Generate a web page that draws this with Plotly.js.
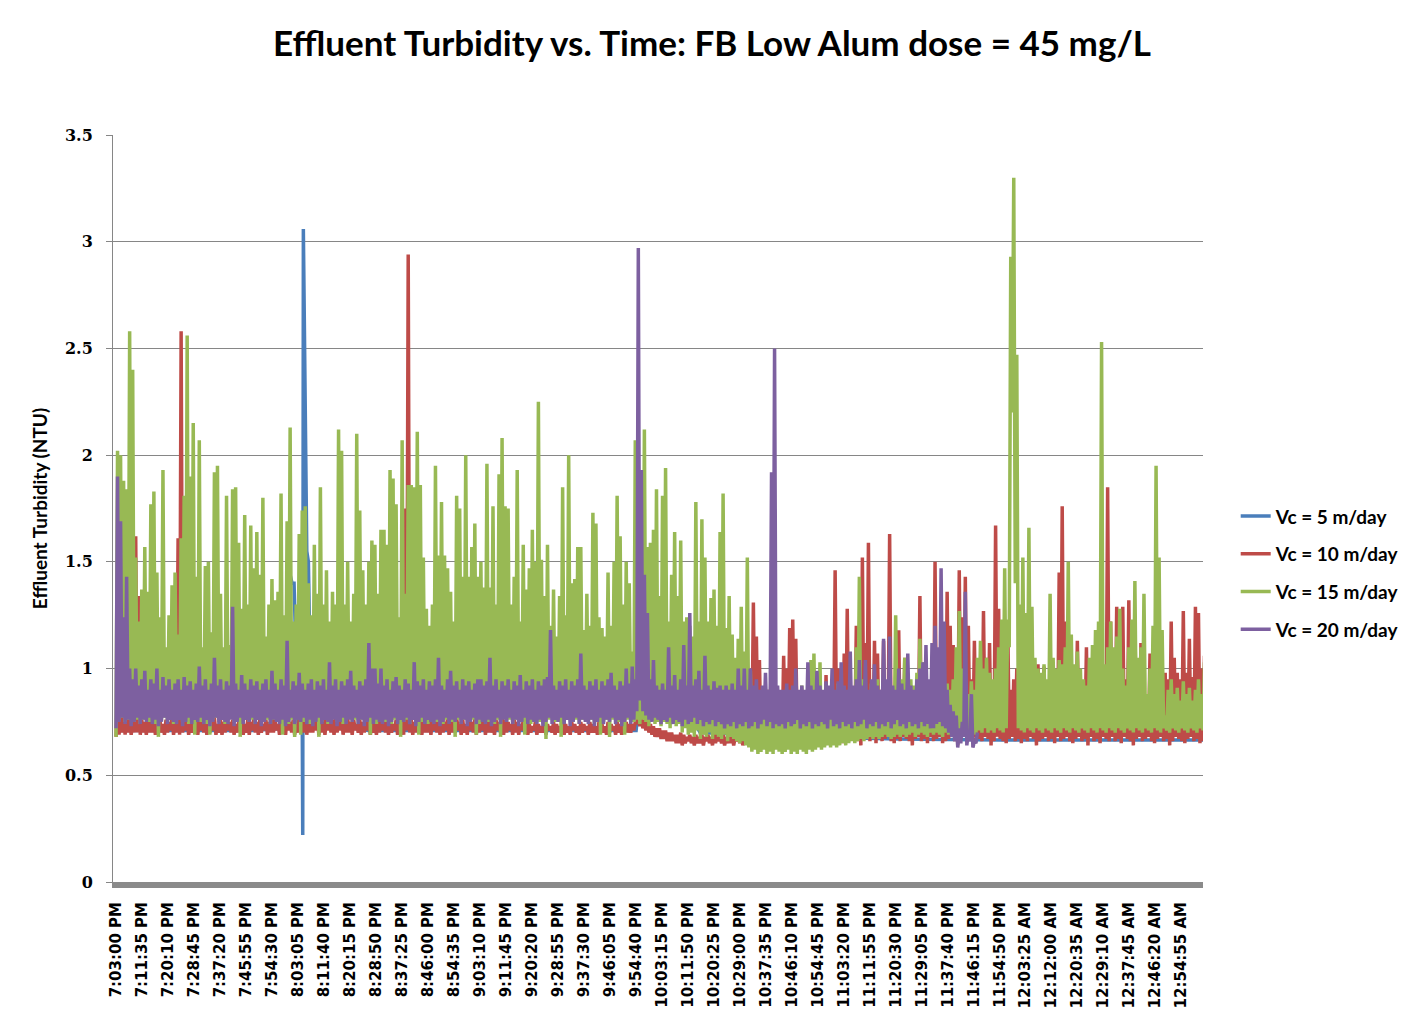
<!DOCTYPE html>
<html>
<head>
<meta charset="utf-8">
<script src="https://cdn.plot.ly/plotly-3.0.1.min.js"></script>
<style>html,body{margin:0;padding:0;background:#fff;}#chart{width:1424px;height:1035px;}</style>
</head>
<body>
<div id="chart"></div>
<script>
// ---- x axis: one sample column every 60 s from 7:03:00 PM ----
const stepSeconds = 60;
const tickStepSeconds = 515;
const tickLabels = ["7:03:00 PM","7:11:35 PM","7:20:10 PM","7:28:45 PM","7:37:20 PM","7:45:55 PM","7:54:30 PM",
"8:03:05 PM","8:11:40 PM","8:20:15 PM","8:28:50 PM","8:37:25 PM","8:46:00 PM","8:54:35 PM","9:03:10 PM",
"9:11:45 PM","9:20:20 PM","9:28:55 PM","9:37:30 PM","9:46:05 PM","9:54:40 PM","10:03:15 PM","10:11:50 PM",
"10:20:25 PM","10:29:00 PM","10:37:35 PM","10:46:10 PM","10:54:45 PM","11:03:20 PM","11:11:55 PM","11:20:30 PM",
"11:29:05 PM","11:37:40 PM","11:46:15 PM","11:54:50 PM","12:03:25 AM","12:12:00 AM","12:20:35 AM","12:29:10 AM",
"12:37:45 AM","12:46:20 AM","12:54:55 AM"];

// ---- Vc = 15 m/day : per-column peak and trough (NTU) ----
const green15Top = [
2.02,2.0,1.88,1.84,2.58,2.4,1.52,1.22,1.37,1.57,
1.36,1.77,1.83,1.45,1.24,1.93,1.1,1.25,1.39,1.45,
1.16,1.61,1.81,2.56,1.9,2.15,1.43,2.07,1.1,1.48,
1.5,1.17,1.92,1.95,1.35,1.1,1.81,1.11,1.84,1.85,
1.59,1.28,1.72,1.3,1.67,1.47,1.64,1.44,1.8,1.15,
1.3,1.42,1.32,1.36,1.82,1.25,1.69,2.13,1.22,1.3,
1.63,1.74,1.76,1.4,1.25,1.58,1.35,1.85,1.3,1.46,
1.22,1.36,1.3,2.12,2.02,1.3,1.5,1.22,1.35,2.1,
1.74,1.46,1.3,1.5,1.6,1.58,1.35,1.65,1.65,1.58,
1.93,1.89,1.77,1.24,2.07,1.35,1.86,1.86,1.85,2.11,
1.86,1.52,1.28,1.2,1.3,1.95,1.53,1.78,1.53,1.47,
1.36,1.22,1.81,1.75,1.43,2.0,1.43,1.57,1.68,1.43,
1.5,1.38,1.96,1.38,1.76,1.3,1.91,2.08,1.76,1.75,
1.3,1.43,1.93,1.22,1.58,1.37,1.47,1.65,1.5,2.25,
1.51,1.34,1.58,1.2,1.37,1.15,1.34,1.85,1.25,2.0,
1.4,1.42,1.57,1.57,1.18,1.35,1.2,1.73,1.68,1.24,
1.19,1.15,1.45,1.2,1.5,1.81,1.62,1.3,1.5,1.4,
1.08,2.07,1.5,1.93,2.12,1.57,1.59,1.65,1.84,1.34,
1.81,1.94,1.22,1.44,1.64,1.34,1.6,1.22,1.24,1.2,
1.15,1.78,1.22,1.7,1.52,1.22,1.33,1.37,1.2,1.64,
1.82,1.19,1.34,1.16,1.05,1.14,1.29,1.08,1.52,0.99,
0.85,0.82,0.88,0.8,0.84,0.9,1.25,0.92,0.85,0.82,
0.88,0.8,0.86,0.9,0.83,0.88,0.92,0.85,0.9,1.04,
1.07,0.9,1.03,0.88,0.92,0.85,0.9,0.86,0.93,0.88,
0.9,0.86,0.92,0.88,1.1,1.43,0.95,0.9,0.88,0.93,
0.9,0.95,0.88,0.92,0.9,0.95,0.9,1.25,0.92,0.95,
1.05,0.9,0.95,0.92,0.98,1.14,1.03,0.95,0.9,0.92,
0.95,0.9,0.92,0.88,0.93,0.9,0.95,1.1,1.27,1.0,
0.92,0.88,0.94,0.9,1.05,1.13,1.0,1.05,0.98,0.95,
1.0,1.1,1.23,1.47,1.23,2.93,3.3,2.47,1.3,1.52,
1.26,1.66,1.29,1.05,1.0,0.98,1.02,0.95,1.35,1.05,
1.0,1.04,1.02,1.1,1.5,1.16,1.02,1.08,1.0,0.95,
0.92,1.05,1.11,1.18,1.22,2.53,1.02,1.1,1.22,1.1,
1.15,1.28,1.0,0.92,1.1,1.23,1.41,1.05,1.1,1.35,
0.88,1.0,1.2,1.95,1.52,1.18,0.78,0.9,0.95,0.88,
0.91,0.85,0.94,0.88,0.91,0.85,0.9,0.95,0.88,1.03];
const green15Low = [
0.68,0.76,0.77,0.75,0.76,0.77,0.75,0.76,0.74,0.76,
0.77,0.75,0.76,0.74,0.68,0.76,0.77,0.75,0.76,0.74,
0.76,0.77,0.75,0.76,0.74,0.76,0.69,0.77,0.75,0.76,
0.74,0.69,0.76,0.77,0.75,0.76,0.74,0.76,0.77,0.75,
0.76,0.68,0.76,0.77,0.75,0.76,0.74,0.76,0.77,0.75,
0.76,0.74,0.76,0.77,0.75,0.69,0.76,0.74,0.76,0.68,
0.77,0.69,0.75,0.76,0.74,0.76,0.77,0.68,0.75,0.76,
0.74,0.76,0.77,0.75,0.76,0.74,0.76,0.77,0.75,0.76,
0.74,0.76,0.77,0.75,0.69,0.76,0.74,0.76,0.77,0.75,
0.76,0.74,0.76,0.77,0.68,0.75,0.76,0.74,0.76,0.77,
0.69,0.75,0.76,0.74,0.76,0.77,0.75,0.76,0.74,0.76,
0.77,0.75,0.68,0.76,0.74,0.76,0.77,0.75,0.76,0.69,
0.74,0.76,0.77,0.75,0.76,0.74,0.76,0.68,0.77,0.75,
0.76,0.74,0.76,0.77,0.75,0.69,0.76,0.74,0.76,0.77,
0.75,0.76,0.67,0.76,0.77,0.75,0.76,0.68,0.74,0.76,
0.77,0.75,0.76,0.74,0.76,0.77,0.75,0.76,0.74,0.76,
0.69,0.75,0.76,0.68,0.76,0.77,0.75,0.76,0.69,0.76,
0.77,0.75,0.76,0.74,0.76,0.75,0.73,0.76,0.74,0.75,
0.73,0.75,0.74,0.72,0.75,0.73,0.74,0.7,0.72,0.69,
0.7,0.68,0.71,0.67,0.69,0.68,0.7,0.67,0.69,0.68,
0.67,0.69,0.66,0.68,0.67,0.66,0.65,0.66,0.64,0.63,
0.61,0.62,0.6,0.61,0.62,0.6,0.61,0.6,0.62,0.61,
0.6,0.61,0.62,0.6,0.61,0.6,0.62,0.61,0.6,0.62,
0.61,0.62,0.63,0.62,0.63,0.64,0.63,0.64,0.63,0.64,
0.65,0.64,0.65,0.66,0.65,0.66,0.67,0.66,0.67,0.68,
0.67,0.68,0.67,0.68,0.69,0.68,0.67,0.68,0.69,0.68,
0.69,0.68,0.69,0.7,0.68,0.69,0.7,0.69,0.68,0.7,
0.69,0.7,0.69,0.68,0.7,0.69,0.7,0.69,0.7,0.71,
0.7,0.69,0.71,0.7,0.69,0.71,0.7,0.72,0.7,0.71,
0.7,0.72,0.71,0.7,0.72,1.1,2.2,1.4,0.72,0.71,
0.7,0.72,0.71,0.7,0.72,0.71,0.7,0.72,0.71,0.7,
0.72,0.71,0.7,0.72,0.71,0.7,0.72,0.71,0.7,0.72,
0.71,0.7,0.72,0.71,0.7,0.72,0.71,0.7,0.72,0.71,
0.7,0.72,0.71,0.7,0.72,0.71,0.7,0.72,0.71,0.7,
0.72,0.71,0.7,0.72,0.71,0.7,0.72,0.71,0.7,0.72,
0.71,0.7,0.72,0.71,0.7,0.72,0.71,0.7,0.72,0.71];

// ---- Vc = 10 m/day ----
const red10Top = [
0.91,0.85,0.8,0.78,0.76,0.75,1.62,1.34,0.76,0.75,
0.76,0.75,0.77,0.75,0.76,0.74,0.76,0.75,0.77,0.75,
1.61,2.58,0.77,0.75,0.76,0.74,0.76,0.75,0.77,0.75,
0.76,0.75,0.77,0.74,0.76,0.75,0.77,0.75,0.76,0.74,
0.75,0.77,0.74,0.76,0.75,0.77,0.75,0.76,0.74,0.76,
0.75,0.77,0.76,0.74,0.76,0.75,0.77,0.75,0.76,0.74,
0.76,0.77,0.78,0.76,0.75,0.77,0.76,0.75,0.77,0.76,
0.78,0.76,0.77,0.75,0.78,0.76,0.77,0.75,0.76,0.74,
0.76,0.75,0.77,0.75,0.76,0.74,0.76,0.75,0.77,0.75,
0.76,0.74,0.76,0.75,0.77,1.75,2.94,0.76,0.75,0.77,
0.75,0.76,0.78,0.77,0.76,0.75,0.77,0.76,0.75,0.77,
0.76,0.75,0.77,0.75,0.76,0.74,0.76,0.75,0.77,0.75,
0.76,0.77,0.75,0.76,0.74,0.76,0.75,0.77,0.76,0.75,
0.74,0.76,0.75,0.74,0.76,0.75,0.74,0.73,0.75,0.74,
0.73,0.75,0.74,0.73,0.75,0.74,0.73,0.75,0.74,0.73,
0.75,0.74,0.73,0.75,0.74,0.73,0.75,0.74,0.73,0.75,
0.74,0.73,0.75,0.74,0.73,0.75,0.74,0.73,0.75,0.74,
0.74,0.75,0.78,0.77,0.76,0.75,0.74,0.73,0.72,0.72,
0.71,0.71,0.7,0.7,0.69,0.69,0.7,0.69,0.68,0.69,
0.68,0.69,0.68,0.69,0.68,0.69,0.68,0.7,0.69,0.68,
0.69,0.68,0.7,0.69,0.68,0.69,0.7,0.69,0.72,0.75,
1.31,1.15,1.04,0.8,0.85,0.9,1.2,0.85,0.8,0.85,
1.06,1.0,1.19,1.23,1.14,0.85,0.8,0.82,0.85,0.8,
0.8,0.82,0.85,0.8,0.97,0.85,0.82,1.46,1.0,0.85,
1.07,1.28,0.9,0.85,1.2,0.9,1.52,1.12,1.59,0.9,
1.13,1.07,0.9,1.13,0.85,1.63,0.9,0.85,1.18,0.9,
1.05,0.85,0.9,0.85,0.9,1.34,0.88,0.85,0.9,0.88,
1.5,0.95,1.2,1.0,1.36,1.2,1.11,0.95,1.46,1.24,
1.43,1.2,0.95,1.13,0.9,0.95,1.27,1.05,1.12,0.9,
1.67,1.28,0.9,0.85,1.22,0.9,0.95,1.0,1.02,0.95,
0.85,0.8,0.88,0.85,1.02,0.88,1.01,0.85,0.9,1.02,
0.95,1.45,1.76,1.22,0.9,0.88,0.95,1.13,0.9,0.88,
1.1,0.85,0.89,0.85,0.8,0.85,0.9,1.85,1.22,0.9,
1.29,0.9,1.29,0.95,1.32,0.9,1.22,0.95,1.12,0.9,
0.88,1.07,0.9,0.88,0.92,0.88,0.98,0.95,1.22,1.05,
0.98,0.95,1.27,0.98,1.14,0.96,1.29,1.26,1.0,1.06];
const red10Low = [
0.68,0.69,0.7,0.69,0.7,0.69,0.7,0.7,0.69,0.7,
0.69,0.7,0.7,0.69,0.71,0.7,0.69,0.7,0.71,0.69,
0.7,0.69,0.7,0.71,0.69,0.7,0.7,0.69,0.71,0.7,
0.69,0.7,0.71,0.69,0.7,0.69,0.7,0.71,0.7,0.69,
0.7,0.71,0.69,0.7,0.69,0.71,0.7,0.69,0.7,0.71,
0.69,0.7,0.7,0.71,0.69,0.7,0.69,0.71,0.7,0.69,
0.7,0.71,0.7,0.69,0.7,0.7,0.71,0.69,0.7,0.69,
0.71,0.7,0.69,0.7,0.71,0.69,0.7,0.7,0.69,0.71,
0.7,0.69,0.7,0.71,0.69,0.7,0.69,0.7,0.71,0.7,
0.69,0.7,0.71,0.69,0.7,0.69,0.71,0.7,0.69,0.7,
0.71,0.69,0.7,0.7,0.69,0.71,0.7,0.69,0.7,0.71,
0.69,0.7,0.7,0.71,0.69,0.7,0.69,0.71,0.7,0.69,
0.7,0.71,0.69,0.7,0.7,0.69,0.71,0.7,0.69,0.7,
0.71,0.69,0.7,0.69,0.71,0.7,0.69,0.7,0.71,0.69,
0.7,0.7,0.69,0.71,0.7,0.69,0.7,0.71,0.69,0.7,
0.69,0.71,0.7,0.69,0.7,0.71,0.69,0.7,0.7,0.69,
0.71,0.7,0.69,0.7,0.71,0.69,0.7,0.69,0.71,0.7,
0.7,0.71,0.74,0.73,0.72,0.71,0.7,0.69,0.68,0.68,
0.67,0.67,0.66,0.66,0.66,0.65,0.65,0.64,0.65,0.66,
0.65,0.64,0.65,0.65,0.64,0.66,0.65,0.64,0.65,0.66,
0.65,0.64,0.65,0.65,0.64,0.66,0.65,0.64,0.65,0.66,
0.67,0.66,0.68,0.67,0.65,0.67,0.68,0.66,0.67,0.64,
0.66,0.67,0.68,0.66,0.65,0.67,0.66,0.68,0.67,0.65,
0.67,0.68,0.66,0.67,0.64,0.66,0.67,0.68,0.66,0.67,
0.65,0.67,0.66,0.68,0.67,0.66,0.64,0.67,0.68,0.66,
0.67,0.65,0.68,0.66,0.67,0.68,0.66,0.65,0.67,0.66,
0.68,0.67,0.66,0.64,0.67,0.68,0.66,0.67,0.65,0.68,
0.66,0.67,0.68,0.65,0.66,0.67,0.68,0.66,0.64,0.67,
0.68,0.66,0.67,0.65,0.68,0.67,0.66,0.68,0.67,0.64,
0.66,0.68,0.67,0.66,0.65,0.67,0.68,0.66,0.67,0.65,
0.67,0.66,0.68,0.67,0.64,0.66,0.67,0.68,0.66,0.67,
0.65,0.68,0.66,0.67,0.68,0.66,0.65,0.67,0.68,0.66,
0.67,0.64,0.68,0.66,0.67,0.65,0.68,0.67,0.66,0.68,
0.66,0.67,0.65,0.68,0.67,0.66,0.64,0.67,0.68,0.66,
0.67,0.68,0.66,0.65,0.67,0.68,0.66,0.67,0.64,0.66,
0.68,0.67,0.66,0.65,0.67,0.68,0.66,0.67,0.65,0.66];

// ---- Vc = 20 m/day (record ends near 11:47 PM) ----
const purple20Top = [
1.9,1.69,1.24,1.43,1.0,0.95,1.0,0.92,0.95,0.99,
0.9,0.95,0.93,1.0,0.9,0.96,0.92,0.95,0.9,0.93,
0.95,0.9,0.96,0.92,0.94,0.9,0.93,1.01,0.92,0.95,
0.9,0.93,1.05,0.92,0.95,0.9,0.94,0.92,1.29,0.93,
0.9,0.97,0.93,0.9,0.95,0.92,0.94,0.9,0.93,0.95,
0.9,0.99,0.93,0.9,0.95,0.92,1.13,0.9,0.94,0.92,
0.98,0.93,0.9,0.93,0.95,0.9,0.94,0.92,0.95,0.9,
1.03,0.92,0.95,0.9,0.94,0.92,0.95,0.99,0.92,0.9,
0.94,0.92,0.95,1.12,1.0,1.0,0.93,1.0,0.92,0.95,
0.9,0.94,0.96,0.92,0.9,0.95,0.93,0.9,1.03,0.94,
0.92,0.95,0.9,0.94,0.92,0.95,1.05,0.92,0.9,0.95,
0.99,0.92,0.94,0.9,0.95,0.92,0.94,0.9,0.93,0.95,
0.95,0.92,0.94,1.05,0.92,0.95,0.9,0.94,0.92,0.95,
0.9,0.94,0.92,0.97,0.9,0.94,0.92,0.95,0.9,0.94,
0.92,0.95,0.96,1.18,0.92,0.9,0.94,0.92,0.95,0.9,
0.94,0.92,0.95,1.07,0.92,0.9,0.94,0.92,0.95,0.9,
0.94,0.92,0.95,0.98,0.92,0.9,0.94,0.92,1.0,0.93,
1.01,0.95,2.97,1.93,1.44,1.26,0.95,1.04,0.92,0.9,
0.93,0.9,1.1,0.92,0.97,0.9,0.95,1.11,0.92,1.26,
0.92,0.95,0.99,0.9,1.06,0.92,0.9,0.94,0.91,0.92,
0.9,0.92,0.9,0.93,0.9,1.0,0.92,1.0,0.9,1.0,
0.92,0.95,0.9,0.92,0.98,0.9,1.92,2.5,0.92,0.9,
0.9,0.93,0.9,0.92,1.0,0.9,0.92,0.9,1.03,0.92,
0.9,0.99,0.92,0.9,0.94,0.92,1.0,0.9,0.94,1.03,
0.92,0.9,1.08,0.92,0.95,1.04,0.92,1.04,0.9,0.95,
1.02,0.92,0.9,1.14,0.95,1.15,0.92,0.9,1.0,0.93,
0.9,1.07,0.92,0.9,0.95,1.0,1.03,1.11,0.95,1.12,
1.2,1.1,1.47,1.22,0.9,0.83,0.8,0.78,0.72,0.75,
1.36,0.7,0.88,0.66,0.7];
const purple20Low = [
0.72,0.75,0.77,0.74,0.76,0.73,0.75,0.77,0.74,0.76,
0.75,0.77,0.74,0.76,0.73,0.75,0.77,0.74,0.76,0.75,
0.74,0.76,0.73,0.75,0.77,0.74,0.76,0.75,0.77,0.74,
0.76,0.73,0.75,0.77,0.74,0.76,0.75,0.74,0.76,0.73,
0.75,0.77,0.74,0.76,0.75,0.77,0.74,0.76,0.73,0.75,
0.77,0.74,0.76,0.75,0.74,0.76,0.73,0.75,0.77,0.74,
0.76,0.75,0.77,0.74,0.76,0.73,0.75,0.77,0.74,0.76,
0.75,0.74,0.76,0.73,0.75,0.77,0.74,0.76,0.75,0.77,
0.74,0.76,0.73,0.75,0.77,0.74,0.76,0.75,0.74,0.76,
0.73,0.75,0.77,0.74,0.76,0.75,0.77,0.74,0.76,0.73,
0.75,0.77,0.74,0.76,0.75,0.74,0.76,0.73,0.75,0.77,
0.74,0.76,0.75,0.77,0.74,0.76,0.73,0.75,0.77,0.74,
0.76,0.75,0.74,0.76,0.73,0.75,0.77,0.74,0.76,0.75,
0.77,0.74,0.76,0.73,0.75,0.77,0.74,0.76,0.75,0.74,
0.76,0.73,0.75,0.77,0.74,0.76,0.75,0.77,0.74,0.76,
0.73,0.75,0.77,0.74,0.76,0.75,0.74,0.76,0.73,0.75,
0.77,0.74,0.76,0.75,0.77,0.74,0.76,0.73,0.75,0.77,
0.74,0.76,0.8,0.85,0.8,0.78,0.76,0.75,0.77,0.76,
0.74,0.76,0.75,0.77,0.74,0.76,0.75,0.73,0.76,0.74,
0.75,0.77,0.74,0.76,0.73,0.75,0.74,0.76,0.73,0.75,
0.74,0.72,0.74,0.73,0.75,0.72,0.74,0.73,0.75,0.72,
0.73,0.75,0.72,0.74,0.76,0.73,0.75,0.72,0.74,0.73,
0.74,0.72,0.75,0.73,0.74,0.76,0.72,0.74,0.73,0.75,
0.72,0.74,0.73,0.75,0.74,0.72,0.76,0.73,0.74,0.72,
0.75,0.73,0.74,0.72,0.75,0.73,0.74,0.76,0.72,0.74,
0.73,0.75,0.72,0.74,0.73,0.75,0.72,0.74,0.76,0.73,
0.74,0.72,0.75,0.73,0.74,0.72,0.75,0.73,0.74,0.72,
0.72,0.74,0.75,0.73,0.72,0.7,0.68,0.66,0.63,0.65,
0.68,0.64,0.66,0.63,0.65];

// ---- Vc = 5 m/day (mostly hidden under the other series) ----
const blue5Seconds = [0,900,1800,2700,3420,3449,3488,3528,3548,3600,3690,3700,3712,3760,3780,3812,3832,3865,5000,7000,9000,10306,10346,10584,11377,11575,13557,15500,17521,19500,21540];
const blue5Values  = [0.71,0.71,0.71,0.71,0.72,1.44,1.4,1.4,1.22,0.75,0.75,0.22,3.06,1.75,1.55,1.5,1.15,0.75,0.71,0.71,0.71,0.71,0.8,0.78,0.78,0.7,0.68,0.67,0.665,0.665,0.665];

// build zig-zag (trough, peak) per column
function zigzag(tops, lows) {
  const x = [], y = [];
  for (let i = 0; i < tops.length; i++) {
    x.push(i * stepSeconds); y.push(lows[i]);
    x.push(i * stepSeconds + stepSeconds / 2); y.push(tops[i]);
  }
  return {x, y};
}
const g = zigzag(green15Top, green15Low);
const r = zigzag(red10Top, red10Low);
const p = zigzag(purple20Top, purple20Low);

const tickVals = tickLabels.map((_, k) => k * tickStepSeconds);
const legendFont = {family: 'Lato, "Open Sans", sans-serif', size: 19, color: '#000', weight: 700};
const LW = 3.5;

const traces = [
  {x: blue5Seconds, y: blue5Values, name: 'Vc = 5 m/day', mode: 'lines', line: {color: '#4A7EBB', width: LW}, legendgroup: 'a', hoverinfo: 'skip'},
  {x: r.x, y: r.y, name: 'Vc = 10 m/day', mode: 'lines', line: {color: '#BE4B48', width: LW}, legendgroup: 'b', hoverinfo: 'skip'},
  {x: g.x, y: g.y, name: 'Vc = 15 m/day', mode: 'lines', line: {color: '#98B954', width: LW}, legendgroup: 'c', hoverinfo: 'skip'},
  {x: p.x, y: p.y, name: 'Vc = 20 m/day', mode: 'lines', line: {color: '#7D60A0', width: LW}, legendgroup: 'd', hoverinfo: 'skip'}
];

const layout = {
  width: 1424, height: 1035,
  paper_bgcolor: '#fff', plot_bgcolor: '#fff',
  margin: {l: 113, r: 221, t: 135, b: 153},
  showlegend: true,
  title: {
    text: 'Effluent Turbidity vs. Time: FB Low Alum dose = 45 mg/L',
    font: {family: 'Lato, "Open Sans", sans-serif', size: 35, color: '#000', weight: 700},
    x: 0.5, xref: 'container', xanchor: 'center', y: 0.958, yref: 'container', yanchor: 'middle'
  },
  xaxis: {
    range: [-60, 21540], tickvals: tickVals, ticktext: tickLabels, tickangle: -90,
    tickfont: {family: '"DejaVu Sans", sans-serif', size: 15, color: '#000', weight: 700},
    showline: true, linecolor: '#8A8A8A', linewidth: 6, ticks: '', showgrid: false, zeroline: false,
    ticklabelstandoff: 8
  },
  yaxis: {
    range: [0, 3.5], dtick: 0.5, tick0: 0,
    tickfont: {family: '"DejaVu Serif", serif', size: 16, color: '#000', weight: 700},
    ticks: 'outside', ticklen: 6, tickcolor: '#868686', tickwidth: 1,
    showline: true, linecolor: '#868686', linewidth: 1,
    showgrid: true, gridcolor: '#868686', gridwidth: 1, zeroline: false,
    ticklabelstandoff: 10,
    title: {text: 'Effluent Turbidity (NTU)', font: {family: 'Lato, "Open Sans", sans-serif', size: 19, color: '#000', weight: 700}, standoff: 12}
  },
  legend: {
    x: 1.03, xanchor: 'left', y: 0.414, yanchor: 'middle',
    font: legendFont, traceorder: 'grouped', tracegroupgap: 10,
    bgcolor: 'rgba(0,0,0,0)', borderwidth: 0
  }
};

Plotly.newPlot('chart', traces, layout, {staticPlot: true, displayModeBar: false});
</script>
</body>
</html>
